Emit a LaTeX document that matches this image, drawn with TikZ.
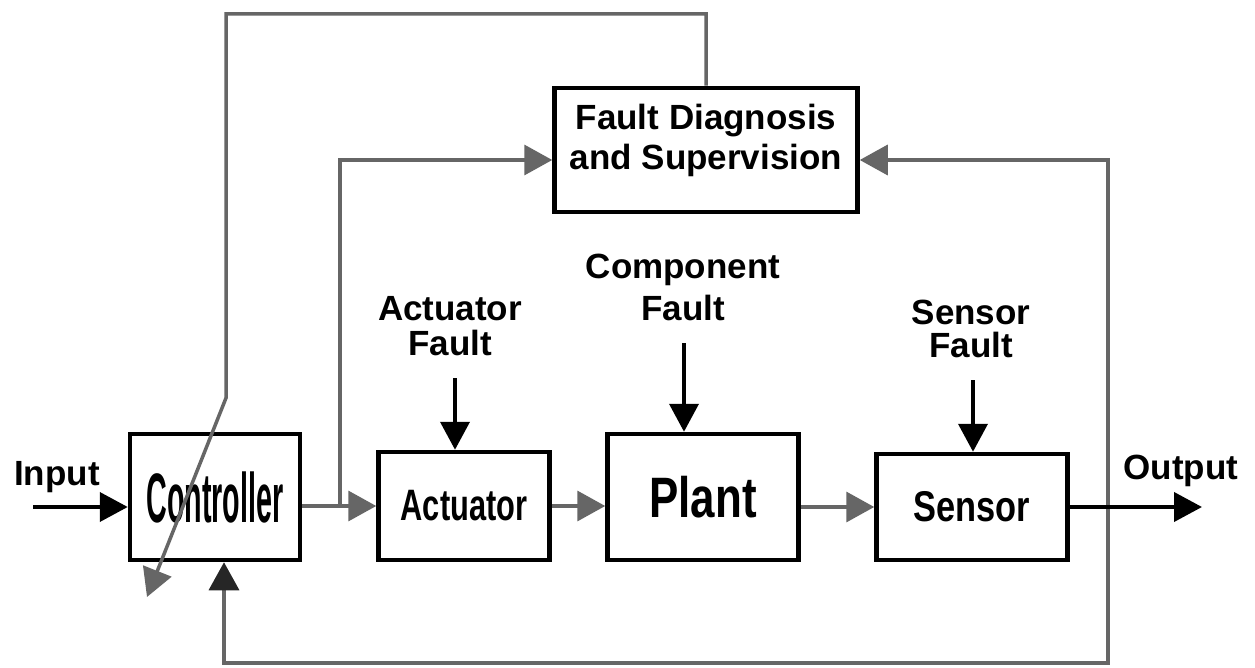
\documentclass[tikz,border=0pt]{standalone}
\usepackage{graphicx}
\usepackage{fontspec}
\setmainfont{Liberation Sans}
\usetikzlibrary{calc,arrows.meta}

\begin{document}
\begin{tikzpicture}[x=1pt,y=-1pt,
    box/.style={draw,line width=4.5pt,inner sep=0pt},
    lbl/.style={align=center,font=\fontsize{35}{38}\selectfont\bfseries},
    blk/.style={line width=4pt,-{Triangle[length=28pt,width=29pt]}},
    gryline/.style={line width=3.5pt,draw=black!60},
    gry/.style={gryline,-{Triangle[length=28pt,width=30pt]}}]
       \useasboundingbox(0,0)rectangle(1255,668);%全体の枠

       \node[box,minimum width=303pt,minimum height=124pt,lbl,
           font=\fontsize{35}{40}\selectfont\bfseries,text depth=27pt]
           (fds)at(706,150){Fault Diagnosis\\and Supervision};%診断と監視
       \node[box,minimum width=170pt,minimum height=126pt](ctrl)at(215,497)
           {\scalebox{0.41}[1]{\fontsize{70}{70}\selectfont\bfseries Controller}};%制御器
       \node[box,minimum width=171pt,minimum height=108pt](act)at(464,506)
           {\scalebox{0.7}[1]{\fontsize{44}{44}\selectfont\bfseries Actuator}};%アクチュエータ
       \node[box,minimum width=191pt,minimum height=126pt](plant)at(703,497)
           {\scalebox{0.77}[1]{\fontsize{57}{57}\selectfont\bfseries Plant}};%プラント
       \node[box,minimum width=191pt,minimum height=106pt](sens)at(972,507)
           {\scalebox{0.8}[1]{\fontsize{43}{43}\selectfont\bfseries Sensor}};%センサ

       \node[lbl,anchor=base](inp)at(57,485){Input};%入力
       \node[lbl,anchor=base](outp)at(1181,479){Output};%出力
       \node[lbl,font=\fontsize{35}{35}\selectfont\bfseries](aflt)at(450,326){Actuator\\Fault};%故障1
       \node[lbl,font=\fontsize{35}{42}\selectfont\bfseries](cflt)at(683,287){Component\\Fault};%故障2
       \node[lbl,font=\fontsize{35}{33}\selectfont\bfseries](sflt)at(971,329){Sensor\\Fault};%故障3

       \coordinate(inT)at(33,507);%入力の始点
       \coordinate(outT)at(1202,507);%出力の終点
       \coordinate(br)at(340,507);%分岐(制御入力)
       \coordinate(fork)at(1108,507);%分岐(出力)
       \coordinate(bot)at(1108,663);%下の線
       \coordinate(top)at(226,14);%上の線
       \coordinate(kink)at(226,398);%折れ点
       \coordinate(adj)at(147,597);%斜め矢印の先
       \coordinate(afT)at(455,378);%故障1の矢印
       \coordinate(cfT)at(684,343);%故障2の矢印
       \coordinate(sfT)at(973,380);%故障3の矢印

       \draw[gry](ctrl.east|-act.west)--(act.west);
       \draw[gry](act.east)--(act.east-|plant.west);
       \draw[gry](plant.east|-sens.west)--(sens.west);
       \draw[gry](br)|-([yshift=-10pt]fds.west);
       \draw[gry](fork)|-([yshift=-10pt]fds.east);
       \draw[gryline,-{Triangle[length=28pt,width=30pt,color=black!85]}]
           (fork)--(bot)-|([xshift=9pt]ctrl.south);%フィードバック
       \draw[gry](fds.north)|-(top)--(kink)--(adj);%再構成

       \draw[blk](inT)--(inT-|ctrl.west);
       \draw[blk](sens.east)--(outT);
       \draw[blk](afT)--(afT|-act.north);
       \draw[blk](cfT)--(cfT|-plant.north);
       \draw[blk](sfT)--(sfT|-sens.north);

      \end{tikzpicture}
\end{document}
